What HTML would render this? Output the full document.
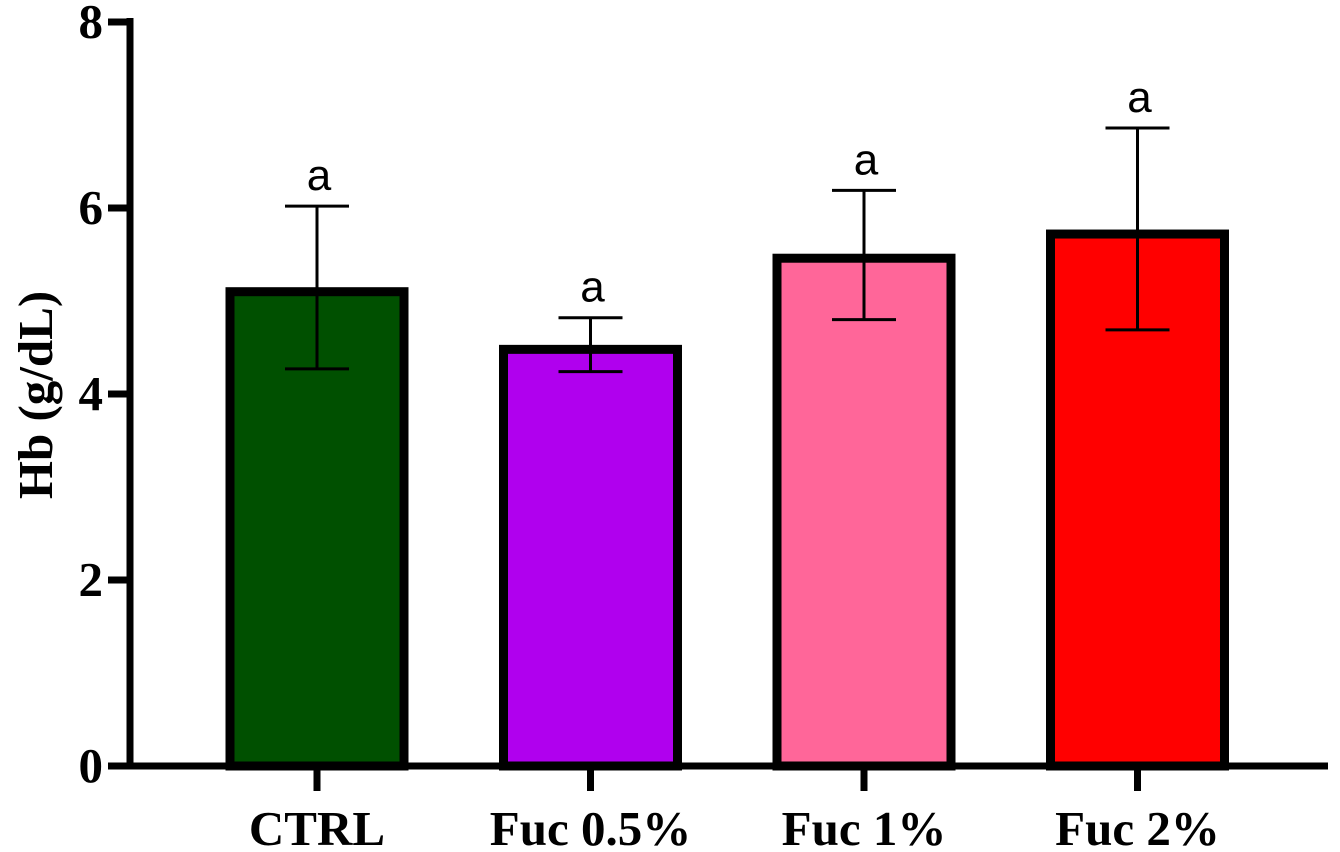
<!DOCTYPE html>
<html><head><meta charset="utf-8"><style>
html,body{margin:0;padding:0;background:#fff;}
svg{display:block;}
</style></head><body>
<svg id="chart" width="1340" height="852" viewBox="0 0 1340 852" xmlns="http://www.w3.org/2000/svg"></svg>
<script>
const categories = ["CTRL", "Fuc 0.5%", "Fuc 1%", "Fuc 2%"];
const means = [5.10, 4.48, 5.46, 5.72];
const upper = [6.02, 4.82, 6.19, 6.86];
const lower = [4.27, 4.24, 4.80, 4.69];
const letters = ["a", "a", "a", "a"];
const colors = ["#005000", "#b000ee", "#ff6699", "#ff0000"];
const yTicks = [0, 2, 4, 6, 8];

const NS = "http://www.w3.org/2000/svg";
const svg = document.getElementById("chart");
const y0 = 766, yPer = 93;
const yScale = v => y0 - v * yPer;
const xCenter = i => 317 + i * 273.5;
const barW = 174;

function mk(tag, attrs, parent) {
  const e = document.createElementNS(NS, tag);
  for (const k in attrs) e.setAttribute(k, attrs[k]);
  (parent || svg).appendChild(e);
  return e;
}

categories.forEach((c, i) => {
  const cx = xCenter(i);
  const g = mk("g", {});
  
  
  const r = mk("rect", {x: cx - barW / 2, y: yScale(means[i]), width: barW, height: y0 - yScale(means[i]), fill: colors[i], stroke: "#000", "stroke-width": 9}, g);
  
  
  const eb = mk("path", {d: `M${cx} ${yScale(upper[i])}V${yScale(lower[i])}M${cx - 32} ${yScale(upper[i])}H${cx + 32}M${cx - 32} ${yScale(lower[i])}H${cx + 32}`, stroke: "#000", "stroke-width": 3, fill: "none"}, g);
  
  
  const t = mk("text", {x: cx + 2, y: yScale(upper[i]) - 16, "text-anchor": "middle", "font-family": "Liberation Sans, sans-serif", "font-size": 44}, g);
  t.textContent = letters[i];
  
  
  const tk = mk("line", {x1: cx, x2: cx, y1: y0, y2: 791, stroke: "#000", "stroke-width": 7});
  
  
  const xl = mk("text", {x: cx, y: 845, "text-anchor": "middle", "font-family": "Liberation Serif, serif", "font-weight": "bold", "font-size": 49});
  xl.textContent = c;
  
  
});

yTicks.forEach(v => {
  const y = yScale(v);
  const tk = mk("line", {x1: 108, x2: 130, y1: y, y2: y, stroke: "#000", "stroke-width": 7});
  
  
  const tl = mk("text", {x: 103, y: y + 16, "text-anchor": "end", "font-family": "Liberation Serif, serif", "font-weight": "bold", "font-size": 49});
  tl.textContent = v;
  
  
});

const ya = mk("line", {x1: 130, x2: 130, y1: 18, y2: 769.5, stroke: "#000", "stroke-width": 7});


const xa = mk("line", {x1: 126.5, x2: 1328, y1: y0, y2: y0, stroke: "#000", "stroke-width": 7});



const yt = mk("text", {x: 0, y: 0, transform: "translate(52,395) rotate(-90)", "text-anchor": "middle", "font-family": "Liberation Serif, serif", "font-weight": "bold", "font-size": 49});
yt.textContent = "Hb (g/dL)";


</script>
</body></html>
